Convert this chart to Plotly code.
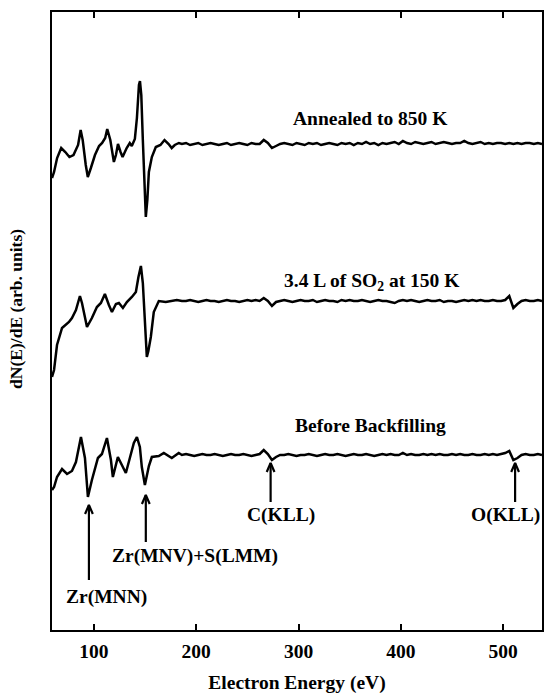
import plotly.graph_objects as go

# Auger spectra, dN(E)/dE in arbitrary units (each curve relative to its own baseline)
# Low-energy region, sampled by hand
anneal_head_e = [59, 61, 64, 68, 72, 76, 80, 82, 84.5, 87, 89, 92, 94, 97, 101, 105, 108, 111,
                 113, 116, 119.5, 121.5, 123.5, 126, 128, 132, 135, 137, 140, 142, 144, 145,
                 146.3, 147.8, 149.3, 150.7, 152.2, 153.7, 156.6, 160.5, 165, 169, 173, 176,
                 179, 183]
anneal_head_v = [-34, -28, -14, -4, -8, -13, -11, -6, -1, 14, 4, -21, -33, -24, -11, -2, 1, 6,
                 15, 4, -18, -11, 0, -8, -13, -4, 1, -2, 5, 26, 59, 63,
                 49, 4, -41, -73, -56, -28, -13, -3, -1, 4, 0, -4,
                 -1, 1]

so2_head_e = [59, 61, 63.9, 68.8, 75.6, 78.5, 82.4, 86.3, 88.3, 93.2, 98, 102.9, 106.8, 110.7,
              114.6, 117.6, 121.5, 124.4, 128.3, 132.2, 137.1, 141, 143.5, 145.9, 147.8,
              149.8, 151.7, 153.2, 155.6, 158.5, 163.4, 170.2, 176, 181]
so2_head_v = [-76, -69, -44, -27, -21, -17, -9, 5, -2, -26, -17, -6, -2, 7,
              -4, -11, -3, -2, -7, -1, 4, 9, 24, 35, 18,
              -26, -56, -50, -36, -11, 0, -1, 0, 1]

before_head_e = [59, 61, 63.9, 68.8, 73.7, 78.5, 82.4, 87.3, 91.2, 94.1, 98, 103.9, 107.8,
                 112.7, 116.6, 118.5, 123.4, 127.3, 131.2, 135.1, 139, 142, 144.9, 146.8,
                 149.8, 153.7, 156.6, 163.4, 168.3, 176.1, 182.9]
before_head_v = [-35, -32, -22, -14, -19, -16, -7, 18, -3, -42, -25, -3, 1,
                 17, -5, -22, -2, -10, -18, -3, 12, 18, 8, -12,
                 -30, -11, -2, -1, 2, -3, 2]

# Higher-energy region on a 4 eV grid (186 ... 538 eV)
tail_e = list(range(186, 539, 4))
anneal_tail_v = [0, 1, -1, 0, 1, -1, 0, 1, 0, -1,
                 0, 1, -1, 0, 1, 0, -1, 1, 0, 0,
                 4, 1, -4, -2, 0, 1, 0, -1, 1, 0,
                 -1, 1, 0, 1, -1, 0, 1, 0, -1, 1,
                 0, 1, -1, 1, 0, 2, 0, 1, -1, 1,
                 0, 1, 2, 0, 3, 1, 0, 2, 1, 0,
                 1, 2, 0, 1, 2, 1, 0, 1, 1, 3,
                 1, 0, 1, 2, 0, 1, 0, 1, 1, 0,
                 1, 0, 1, 0, 1, 1, 0, 1, 0]
so2_tail_v = [0, 0, 1, 0, -1, 0, 1, 0, 0, -1,
              0, 1, 0, 0, -1, 0, 1, 0, 1, 0,
              3, 0, -5, -1, 0, 1, 0, -1, 0, 1,
              0, 0, 1, -1, 0, 1, 0, 0, -1, 1,
              0, 1, 0, 0, 1, 0, -1, 0, 1, 0,
              0, -1, -2, 0, 1, 0, 1, 0, -1, 0,
              1, 0, 0, 1, -1, 0, 0, -1, 0, 1,
              0, 1, 0, 1, 0, 0, 1, 0, 0, 1,
              5, -7, -3, 0, 1, 0, 0, 1, 0]
before_tail_v = [0, 1, 0, -1, 0, 1, 0, 0, 1, 0,
                 -1, 0, 1, 0, 0, 1, 0, -1, 0, 1,
                 5, 1, -5, -2, 0, 0, 1, 0, -1, 0,
                 0, 1, 0, -1, 0, 1, 0, 0, 1, 0,
                 -1, 0, 1, 0, 0, 1, 0, -1, 0, 1,
                 0, 1, 0, 0, 2, 0, 1, 0, 0, 1,
                 0, 1, 0, 1, 0, 0, 1, 0, 1, 0,
                 0, 1, 0, 0, 1, 0, 1, 0, 1, 2,
                 4, -5, -3, 0, 1, 0, 0, 1, 0]

# Vertical offsets used to stack the three spectra
offsets = {"anneal": 486, "so2": 329, "before": 175}

curve_labels = ["Annealed to 850 K", "3.4 L of SO<sub>2</sub> at 150 K", "Before Backfilling"]
curve_label_pos = [(370, 512), (372, 348), (370, 205)]

# Peak assignments: label, arrow energy, arrow tip, arrow tail, label x, label y
peak_labels = ["Zr(MNN)", "Zr(MNV)+S(LMM)", "C(KLL)", "O(KLL)"]
peak_energy = [95.1, 150.7, 272.7, 511.7]
arrow_tip = [125, 135, 167, 167]
arrow_tail = [50, 88, 128, 128]
peak_label_x = [112.7, 199, 282.4, 502]
peak_label_y = [33, 74, 115, 115]

x_ticks = [100, 200, 300, 400, 500]

FONT = "Liberation Serif"
HEAD_HALF_W = 3.8   # eV
HEAD_LEN = 9        # y units

fig = go.Figure()
for key, head_e, head_v, tail_v in [
    ("anneal", anneal_head_e, anneal_head_v, anneal_tail_v),
    ("so2", so2_head_e, so2_head_v, so2_tail_v),
    ("before", before_head_e, before_head_v, before_tail_v),
]:
    e = head_e + tail_e
    v = [val + offsets[key] for val in head_v + tail_v]
    fig.add_trace(go.Scatter(x=e, y=v, mode="lines",
                             line=dict(color="black", width=2.5),
                             showlegend=False, hoverinfo="skip"))

# Arrows pointing at the assigned peaks: shaft plus open V head
for ex, tip, tail in zip(peak_energy, arrow_tip, arrow_tail):
    fig.add_trace(go.Scatter(
        x=[ex, ex, None, ex - HEAD_HALF_W, ex, ex + HEAD_HALF_W],
        y=[tail, tip, None, tip - HEAD_LEN, tip, tip - HEAD_LEN],
        mode="lines", line=dict(color="black", width=2.2),
        showlegend=False, hoverinfo="skip"))

annotations = []
for text, (lx, ly) in zip(curve_labels, curve_label_pos):
    annotations.append(dict(x=lx, y=ly, text=f"<b>{text}</b>", showarrow=False,
                            font=dict(family=FONT, size=19.5, color="black"),
                            xanchor="center", yanchor="middle"))

for text, lx, ly in zip(peak_labels, peak_label_x, peak_label_y):
    annotations.append(dict(x=lx, y=ly, text=f"<b>{text}</b>", showarrow=False,
                            font=dict(family=FONT, size=19.5, color="black"),
                            xanchor="center", yanchor="middle"))

annotations.append(dict(x=-0.075, y=0.52, xref="paper", yref="paper",
                        text="<b>dN(E)/dE (arb. units)</b>", textangle=-90,
                        showarrow=False, xanchor="center", yanchor="middle",
                        font=dict(family=FONT, size=17.5, color="black")))

fig.update_layout(
    width=545, height=699,
    margin=dict(l=52, r=1, t=12, b=69),
    plot_bgcolor="white", paper_bgcolor="white",
    annotations=annotations,
    xaxis=dict(range=[59, 538], tickvals=x_ticks, ticks="inside", ticklen=6,
               tickwidth=2, tickcolor="black", showline=True, linewidth=2,
               linecolor="black", mirror="ticks", showgrid=False, zeroline=False,
               ticklabelstandoff=3,
               tickfont=dict(family=FONT, size=19.5, color="black", weight="bold"),
               title=dict(text="<b>Electron Energy (eV)</b>", standoff=14,
                          font=dict(family=FONT, size=19.5, color="black"))),
    yaxis=dict(range=[0, 618], showticklabels=False, ticks="", showline=True,
               linewidth=2, linecolor="black", mirror=True, showgrid=False,
               zeroline=False),
)

fig.write_html("out.html")
